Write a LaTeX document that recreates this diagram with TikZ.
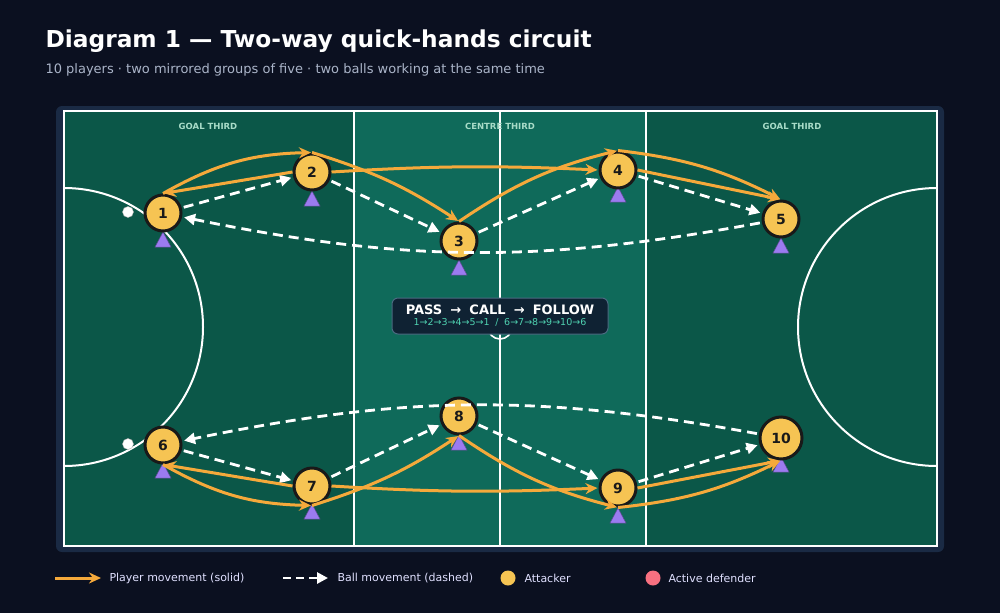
\documentclass[tikz,border=0pt]{standalone}
\usepackage{fontspec}
\setmainfont{DejaVu Sans}
\usetikzlibrary{arrows.meta}
\definecolor{bg}{HTML}{0B1020}
\definecolor{frame}{HTML}{1A2A44}
\definecolor{darkg}{HTML}{0B5748}
\definecolor{lightg}{HTML}{0F6A5A}
\definecolor{att}{HTML}{F6C453}
\definecolor{orng}{HTML}{F5A93B}
\definecolor{def}{HTML}{9B7BF0}
\definecolor{mint}{HTML}{A8DCC8}
\definecolor{teal}{HTML}{4FD1B0}
\definecolor{boxbg}{HTML}{0F2233}
\definecolor{boxbd}{HTML}{4A6A80}
\definecolor{sub}{HTML}{AAB4C8}
\definecolor{red}{HTML}{F87080}
\begin{document}
\begin{tikzpicture}[x=1pt,y=-1pt,
  player/.style={circle,fill=att,draw=black!90,line width=3pt,minimum size=36pt,inner sep=0pt,font=\fontsize{14}{14}\selectfont\bfseries,text=black!90},
  big/.style={minimum size=42pt},
  tri/.style={fill=def,draw=def!60!black,line width=0.5pt},
  run/.style={draw=orng,line width=3pt,-{Stealth[length=12pt,width=11pt]},shorten >=1pt},
  ball/.style={draw=white,line width=2.8pt,dash pattern=on 10pt off 6pt,-{Triangle[length=11pt,width=11pt]},shorten >=2pt,shorten <=2pt},
  third/.style={font=\fontsize{8.5}{9}\selectfont\bfseries,text=mint},
  leg/.style={font=\fontsize{11}{13}\selectfont,text=white!88!blue,anchor=west}]
\fill[bg] (0,0) rectangle (1000,613);
\useasboundingbox (0,0) rectangle (1000,613);
\node[anchor=base west,text=white,font=\fontsize{23.3}{28}\selectfont\bfseries] (title) at (42,47) {Diagram 1 — Two-way quick-hands circuit};
\node[anchor=base west,text=sub,font=\fontsize{13}{15}\selectfont] (subt) at (42,73) {10 players · two mirrored groups of five · two balls working at the same time};
% pitch
\fill[frame,rounded corners=6pt] (56,106) rectangle (944,552);
\fill[darkg] (64,111) rectangle (354,546);
\fill[lightg] (354,111) rectangle (646,546);
\fill[darkg] (646,111) rectangle (937,546);
\begin{scope}
\clip (64,111) rectangle (937,546);
\draw[white,line width=2pt] (64,327) circle (139);
\draw[white,line width=2pt] (937,327) circle (139);
\draw[white,line width=1.6pt] (500,327) circle (12);
\end{scope}
\draw[white,line width=2pt] (354,111) -- (354,546) (500,111) -- (500,546) (646,111) -- (646,546);
\draw[white,line width=2.8pt] (64,111) rectangle (937,546);
\node[third] (t1) at (208,126) {GOAL THIRD};
\node[third] (t2) at (500,126) {CENTRE THIRD};
\node[third] (t3) at (792,126) {GOAL THIRD};
% centre box
\node[fill=boxbg,draw=boxbd,line width=1pt,rounded corners=6pt,minimum width=216pt,minimum height=36pt,align=center,inner sep=2pt] (cbox) at (500,316)
 {{\fontsize{13}{14}\selectfont\bfseries\color{white}PASS\; → \;CALL\; → \;FOLLOW}\\[-1pt]
  {\fontsize{9.5}{10}\selectfont\color{teal}1→2→3→4→5→1 \;/\; 6→7→8→9→10→6}};
% defenders
\foreach \x/\y in {163/240,312/199,459/268,618/195,781/246,163/471,312/512,459/443,618/516,781/465}
  \filldraw[tri] (\x-8,\y+7) -- (\x+8,\y+7) -- (\x,\y-8) -- cycle;
% balls
\filldraw[white,draw=black!30] (128,212) circle (5.5);
\filldraw[white,draw=black!30] (128,444) circle (5.5);
% players
\node[player] (p1) at (163,213) {1};
\node[player] (p2) at (312,172) {2};
\node[player] (p3) at (459,241) {3};
\node[player] (p4) at (618,170) {4};
\node[player] (p5) at (781,219) {5};
\node[player] (p6) at (163,445) {6};
\node[player] (p7) at (312,486) {7};
\node[player] (p8) at (459,416) {8};
\node[player] (p9) at (618,488) {9};
\node[player,big] (p10) at (781,438) {10};
% ball movement
\draw[ball] (p1) -- (p2);
\draw[ball] (p2) -- (p3);
\draw[ball] (p3) -- (p4);
\draw[ball] (p4) -- (p5);
\draw[ball] (p5) to[bend left=11] (p1);
\draw[ball] (p6) -- (p7);
\draw[ball] (p7) -- (p8);
\draw[ball] (p8) -- (p9);
\draw[ball] (p9) -- (p10);
\draw[ball] (p10) to[bend right=11] (p6);
% player movement
\draw[run] (p1.north) to[bend left=14] (p2.north);
\draw[run] (p2.west) -- (p1.north);
\draw[run] (p2.north) to[bend left=8] (p3.north);
\draw[run] (p2.east) to[bend left=3] (p4.west);
\draw[run] (p3.north) to[bend left=10] (p4.north);
\draw[run] (p4.north) to[bend left=10] (p5.north);
\draw[run] (p4.east) -- (p5.north);
\draw[run] (p7.west) -- (p6.south);
\draw[run] (p6.south) to[bend right=14] (p7.south);
\draw[run] (p7.south) to[bend right=8] (p8.south);
\draw[run] (p7.east) to[bend right=3] (p9.west);
\draw[run] (p8.south) to[bend right=10] (p9.south);
\draw[run] (p9.east) -- (p10.south);
\draw[run] (p9.south) to[bend right=10] (p10.south);
% legend
\coordinate (la) at (55,578); \coordinate (lb) at (101,578);
\draw[run,shorten >=0pt] (la) -- (lb);
\node[leg] (l1) at (106,578) {Player movement (solid)};
\coordinate (lc) at (283,578); \coordinate (ld) at (328,578);
\draw[ball,shorten >=0pt,shorten <=0pt,dash pattern=on 8pt off 5pt] (lc) -- (ld);
\node[leg] (l2) at (334,578) {Ball movement (dashed)};
\node[circle,fill=att,minimum size=15pt,inner sep=0pt] (l3) at (508,578) {};
\node[leg] (l3t) at (521,578) {Attacker};
\node[circle,fill=red,minimum size=15pt,inner sep=0pt] (l4) at (653,578) {};
\node[leg] (l4t) at (665,578) {Active defender};
\end{tikzpicture}
\end{document}
